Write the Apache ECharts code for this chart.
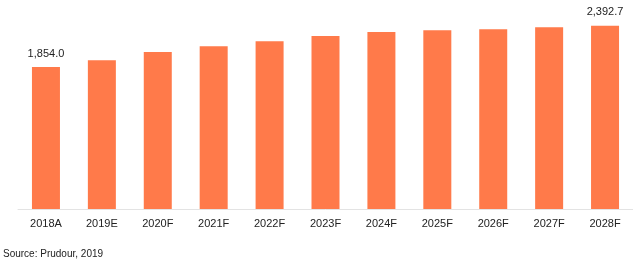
<!DOCTYPE html>
<html>
<head>
<meta charset="utf-8">
<script src="https://cdn.jsdelivr.net/npm/echarts@6/dist/echarts.min.js"></script>
<style>
html,body{margin:0;padding:0;background:#fff;}
#c{width:633px;height:263px;}
</style>
</head>
<body>
<div id="c"></div>
<script>
var categories = ['2018A','2019E','2020F','2021F','2022F','2023F','2024F','2025F','2026F','2027F','2028F'];
var values = [1854.0, 1945, 2050, 2128, 2193, 2259, 2311, 2337, 2350, 2376, 2392.7];
var labeledIndices = [0, 10];
var sourceText = 'Source: Prudour, 2019';

var chart = echarts.init(document.getElementById('c'));
var data = values.map(function (v, i) {
  return {
    value: v,
    label: { show: labeledIndices.indexOf(i) >= 0 }
  };
});
chart.setOption({
  animation: false,
  grid: { left: 18, right: -5, top: 10, bottom: 54, containLabel: false },
  graphic: [{
    type: 'text', left: 3, top: 249,
    style: { text: sourceText, fontFamily: 'Liberation Sans', fontSize: 10, fill: '#222' }
  }],
  xAxis: {
    type: 'category',
    data: categories,
    axisTick: { show: false },
    axisLine: { lineStyle: { color: '#e3e3e3', width: 1 } },
    axisLabel: { color: '#222', fontFamily: 'Liberation Sans', fontSize: 11, margin: 9 }
  },
  yAxis: {
    type: 'value', min: 0, max: 2600,
    show: false, splitLine: { show: false }
  },
  series: [{
    type: 'bar',
    data: data,
    barWidth: 28,
    itemStyle: { color: '#FF7A4A' },
    label: {
      position: 'top', distance: 8,
      color: '#222', fontFamily: 'Liberation Sans', fontSize: 11,
      formatter: function (p) {
        return p.value.toLocaleString('en-US', { minimumFractionDigits: 1, maximumFractionDigits: 1 });
      }
    }
  }]
});
</script>
</body>
</html>
